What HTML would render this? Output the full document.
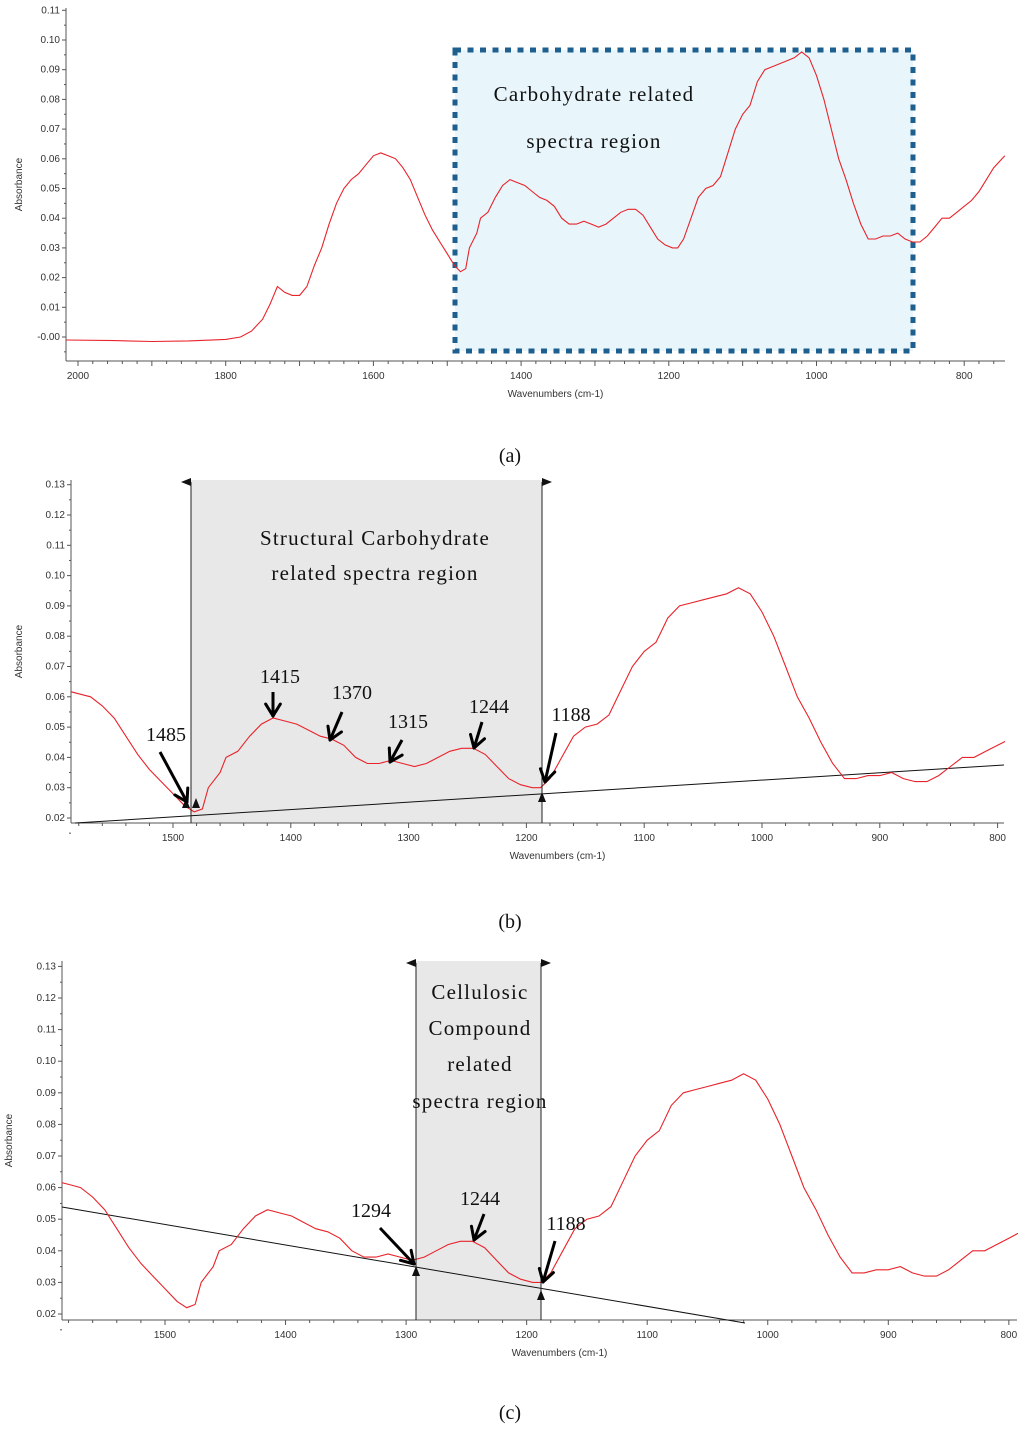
<!DOCTYPE html>
<html><head><meta charset="utf-8">
<style>
html,body{margin:0;padding:0;background:#fff;}
svg{display:block;}
.tk{font-family:"Liberation Sans",sans-serif;font-size:10px;fill:#333;}
.ser{font-family:"Liberation Serif",serif;font-size:21px;letter-spacing:1.2px;fill:#111;}
.num{font-family:"Liberation Serif",serif;font-size:20px;fill:#111;}
</style></head>
<body>
<svg id="fig" width="1024" height="1429" viewBox="0 0 1024 1429" xmlns="http://www.w3.org/2000/svg"></svg>
<script>
const wavenumbers=[2016,1950,1900,1850,1800,1780,1765,1750,1740,1730,1720,1710,1700,1690,1680,1670,1660,1650,1640,1630,1620,1610,1600,1590,1580,1570,1560,1550,1540,1530,1520,1510,1500,1490,1482,1475,1470,1460,1455,1445,1435,1425,1415,1405,1395,1385,1375,1365,1355,1345,1335,1325,1315,1305,1295,1285,1275,1265,1255,1245,1235,1225,1215,1205,1195,1188,1180,1170,1160,1150,1140,1130,1120,1110,1100,1090,1080,1070,1060,1050,1040,1030,1020,1010,1000,990,980,970,960,950,940,930,920,910,900,890,880,870,860,850,840,830,820,810,800,790,780,770,760,745];
const absorbance=[-0.001,-0.0012,-0.0015,-0.0013,-0.0008,0.0,0.002,0.006,0.011,0.017,0.015,0.014,0.014,0.017,0.024,0.030,0.038,0.045,0.050,0.053,0.055,0.058,0.061,0.062,0.061,0.060,0.057,0.053,0.047,0.041,0.036,0.032,0.028,0.024,0.022,0.023,0.030,0.035,0.040,0.042,0.047,0.051,0.053,0.052,0.051,0.049,0.047,0.046,0.044,0.040,0.038,0.038,0.039,0.038,0.037,0.038,0.040,0.042,0.043,0.043,0.041,0.037,0.033,0.031,0.030,0.030,0.033,0.040,0.047,0.050,0.051,0.054,0.062,0.070,0.075,0.078,0.086,0.090,0.091,0.092,0.093,0.094,0.096,0.094,0.088,0.080,0.070,0.060,0.053,0.045,0.038,0.033,0.033,0.034,0.034,0.035,0.033,0.032,0.032,0.034,0.037,0.040,0.040,0.042,0.044,0.046,0.049,0.053,0.057,0.061];
const yTicksA=[0.11,0.10,0.09,0.08,0.07,0.06,0.05,0.04,0.03,0.02,0.01,0.00];
const yTicksBC=[0.13,0.12,0.11,0.10,0.09,0.08,0.07,0.06,0.05,0.04,0.03,0.02];
const xTicksA=[2000,1800,1600,1400,1200,1000,800];
const xTicksBC=[1500,1400,1300,1200,1100,1000,900,800];

const NS="http://www.w3.org/2000/svg";
const svg=document.getElementById('fig');
function mk(tag,attrs,parent){const e=document.createElementNS(NS,tag);for(const k in attrs)e.setAttribute(k,attrs[k]);(parent||svg).appendChild(e);return e;}

function panel(p){
  const g=mk('g',{});
  
  
  const X=w=>p.x0+(p.w0-w)*p.kx;
  const Y=a=>p.y0-(a-p.a0)*p.ky;
  p.region(g,X,Y);
  const ax=mk('line',{x1:p.left,y1:p.top,x2:p.left,y2:p.bottom,stroke:'#555','stroke-width':1},g);
  
  const bx=mk('line',{x1:p.left,y1:p.bottom,x2:p.right,y2:p.bottom,stroke:'#555','stroke-width':1},g);
  
  p.yt.forEach((v,i)=>{
    const y=Y(v);
    mk('line',{x1:p.left-4,y1:y,x2:p.left,y2:y,stroke:'#555'},g);
    mk('line',{x1:p.left-2,y1:y+p.ky*0.005,x2:p.left,y2:y+p.ky*0.005,stroke:'#555'},g);
    const t=mk('text',{x:p.left-6,y:y+3,'text-anchor':'end',class:'tk'},g);
    
    t.textContent=(p.neg&&v===0)?'-0.00':v.toFixed(2);
  });
  for(let w=Math.ceil(p.wR/20)*20; w<=p.wL; w+=20){
    const x=X(w); const major=w%100===0;
    mk('line',{x1:x,y1:p.bottom,x2:x,y2:p.bottom+(major?5:3),stroke:'#555'},g);
  }
  p.xt.forEach(v=>{
    const t=mk('text',{x:X(v),y:p.bottom+18,'text-anchor':'middle',class:'tk'},g);
    
    t.textContent=v;
  });
  const xl=mk('text',{x:(p.left+p.right)/2+20,y:p.bottom+36,'text-anchor':'middle',class:'tk'},g);
  
  xl.textContent='Wavenumbers (cm-1)';
  const yc=(p.top+p.bottom)/2;
  const yl=mk('text',{x:p.ylx,y:yc,'text-anchor':'middle',class:'tk',transform:`rotate(-90 ${p.ylx} ${yc})`},g);
  
  yl.textContent='Absorbance';
  if(p.base){const b=mk('line',{x1:p.base[0],y1:p.base[1],x2:p.base[2],y2:p.base[3],stroke:'#111','stroke-width':1},g);
    }
  let d='';
  wavenumbers.forEach((w,i)=>{ if(w>p.wL+5||w<p.wR-5)return; d+=(d?'L':'M')+X(w).toFixed(1)+' '+Y(absorbance[i]).toFixed(1);});
  const c=mk('path',{d:d,fill:'none',stroke:'#e8232a','stroke-width':1.1,'clip-path':`url(#${p.clip})`},g);
  
  p.after && p.after(g,X,Y);
}
const defs=mk('defs',{});
function clip(id,x,y,w,h){const c=mk('clipPath',{id:id},defs);mk('rect',{x:x,y:y,width:w,height:h},c);}
clip('ca',66,0,940,362);clip('cb',71,470,934,354);clip('cc',62,950,956,371);

function arrow(g,x1,y1,x2,y2){
  const l=mk('line',{x1:x1,y1:y1,x2:x2,y2:y2,stroke:'#000','stroke-width':3},g);
  
  const a=Math.atan2(y2-y1,x2-x1),L=14;
  [0.55,-0.55].forEach(s=>mk('line',{x1:x2,y1:y2,x2:x2-L*Math.cos(a+s),y2:y2-L*Math.sin(a+s),stroke:'#000','stroke-width':3,'stroke-linecap':'round'},g));
}
function label(g,x,y,txt,name,cls){const t=mk('text',{x:x,y:y,'text-anchor':'middle',class:cls||'ser'},g);t.textContent=txt;}
function marker(g,x,top,bottom,dir){
  const v=mk('line',{x1:x,y1:top,x2:x,y2:bottom,stroke:'#222','stroke-width':1},g);
  
  if(dir<0)mk('polygon',{points:`${x},${top-4} ${x},${top+4} ${x-10},${top}`,fill:'#111'},g);
  else mk('polygon',{points:`${x},${top-4} ${x},${top+4} ${x+10},${top}`,fill:'#111'},g);
}
function tri(g,x,y){mk('polygon',{points:`${x-4},${y+8} ${x+4},${y+8} ${x},${y-2}`,fill:'#111'},g);}

panel({name:'panel-a',x0:78,w0:2000,kx:0.7385,y0:337,a0:0,ky:2970,left:66,right:1005,top:8,bottom:361,wL:2016,wR:745,
 yt:yTicksA,xt:xTicksA,neg:true,ylx:22,clip:'ca',
 region:(g,X,Y)=>{const r=mk('rect',{x:455,y:50,width:458,height:301,fill:'#e8f6fc',stroke:'#1d5f8e','stroke-width':5,'stroke-dasharray':'6 6.5'},g);
   },
 after:(g)=>{label(g,594,101,'Carbohydrate related','region-label');label(g,594,148,'spectra region','region-label');}
});
label(svg,510,462,'(a)','caption-a','num');

panel({name:'panel-b',x0:173,w0:1500,kx:1.178,y0:818,a0:0.02,ky:3030,left:71,right:1004,top:480,bottom:823,wL:1587,wR:793,
 yt:yTicksBC,xt:xTicksBC,ylx:22,clip:'cb',base:[75,823,1004,765],
 region:(g)=>{const r=mk('rect',{x:191,y:480,width:351,height:343,fill:'#e8e8e8'},g);
   },
 after:(g)=>{
   marker(g,191,482,823,-1);marker(g,542,482,823,1);
   tri(g,186,800);tri(g,196,800);tri(g,542,794);
   label(g,375,545,'Structural Carbohydrate','region-label');label(g,375,580,'related spectra region','region-label');
   label(g,166,741,'1485','peak-label','num');arrow(g,160,752,187,802);
   label(g,280,683,'1415','peak-label','num');arrow(g,273,692,273,716);
   label(g,352,699,'1370','peak-label','num');arrow(g,342,712,330,740);
   label(g,408,728,'1315','peak-label','num');arrow(g,402,740,390,762);
   label(g,489,713,'1244','peak-label','num');arrow(g,482,722,474,748);
   label(g,571,721,'1188','peak-label','num');arrow(g,556,733,545,782);
 }
});
label(svg,510,928,'(b)','caption-b','num');

panel({name:'panel-c',x0:165,w0:1500,kx:1.2055,y0:1314,a0:0.02,ky:3160,left:62,right:1017,top:961,bottom:1320,wL:1585,wR:792,
 yt:yTicksBC,xt:xTicksBC,ylx:12,clip:'cc',base:[62,1207,745,1323],
 region:(g)=>{const r=mk('rect',{x:416,y:961,width:125,height:359,fill:'#e8e8e8'},g);
   },
 after:(g)=>{
   marker(g,416,963,1320,-1);marker(g,541,963,1320,1);
   tri(g,416,1268);tri(g,541,1292);
   label(g,480,999,'Cellulosic','region-label');label(g,480,1035,'Compound','region-label');
   label(g,480,1071,'related','region-label');label(g,480,1108,'spectra region','region-label');
   label(g,371,1217,'1294','peak-label','num');arrow(g,380,1228,414,1264);
   label(g,480,1205,'1244','peak-label','num');arrow(g,484,1214,474,1240);
   label(g,566,1230,'1188','peak-label','num');arrow(g,555,1241,543,1282);
 }
});
label(svg,510,1419,'(c)','caption-c','num');
</script>
</body></html>
